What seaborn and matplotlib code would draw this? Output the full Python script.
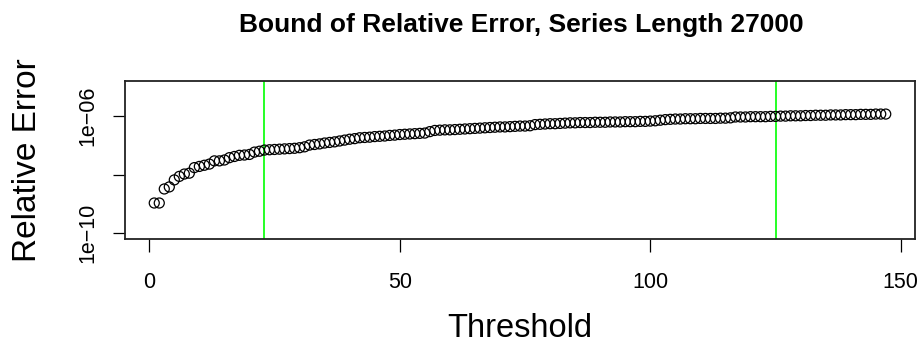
import numpy as np
import pandas as pd
import matplotlib
matplotlib.use("Agg")
import matplotlib.pyplot as plt
import seaborn as sns

# ---- data ----
threshold = list(range(1, 148))
# log10 of the relative error bound, read point by point
rel_error_log10 = [
    -8.97, -8.97, -8.49, -8.42, -8.18, -8.06, -7.98, -7.95, -7.76, -7.72,
    -7.68, -7.64, -7.53, -7.53, -7.50, -7.42, -7.38, -7.34, -7.33, -7.31,
    -7.23, -7.20, -7.16, -7.15, -7.14, -7.13, -7.12, -7.11, -7.10, -7.08,
    -7.05, -6.99, -6.97, -6.95, -6.92, -6.90, -6.88, -6.85, -6.82, -6.79,
    -6.77, -6.74, -6.73, -6.72, -6.70, -6.69, -6.68, -6.66, -6.65, -6.63,
    -6.62, -6.61, -6.60, -6.59, -6.58, -6.53, -6.49, -6.48, -6.47, -6.47,
    -6.46, -6.45, -6.44, -6.43, -6.42, -6.41, -6.40, -6.39, -6.38, -6.37,
    -6.37, -6.36, -6.35, -6.34, -6.34, -6.33, -6.29, -6.28, -6.27, -6.26,
    -6.26, -6.25, -6.24, -6.23, -6.23, -6.22, -6.22, -6.22, -6.21, -6.21,
    -6.21, -6.20, -6.20, -6.20, -6.19, -6.19, -6.19, -6.18, -6.18, -6.17,
    -6.16, -6.14, -6.12, -6.11, -6.10, -6.10, -6.09, -6.09, -6.09, -6.08,
    -6.08, -6.08, -6.08, -6.07, -6.07, -6.06, -6.03, -6.03, -6.03, -6.02,
    -6.02, -6.02, -6.02, -6.01, -6.01, -6.00, -6.00, -5.99, -5.99, -5.99,
    -5.98, -5.98, -5.97, -5.97, -5.97, -5.96, -5.96, -5.96, -5.95, -5.95,
    -5.95, -5.94, -5.94, -5.94, -5.93, -5.93, -5.93,
]
vlines_x = [23, 125]
x_ticks = [0, 50, 100, 150]
y_ticks = [1e-10, 1e-8, 1e-6]
y_tick_labels = ["1e\u221210", "", "1e\u221206"]
title = "Bound of Relative Error, Series Length 27000"
xlabel = "Threshold"
ylabel = "Relative Error"

df = pd.DataFrame({"Threshold": threshold,
                   "RelErr": np.power(10.0, rel_error_log10)})

sns.set_style("white")
plt.rcParams["font.family"] = ["Liberation Sans", "DejaVu Sans"]
plt.rcParams["text.color"] = "black"
plt.rcParams["axes.labelcolor"] = "black"
plt.rcParams["xtick.color"] = "black"
plt.rcParams["ytick.color"] = "black"

fig = plt.figure(figsize=(9.22, 3.48), dpi=100)
ax = fig.add_axes([125 / 922, 1 - 239 / 348, (915 - 125) / 922, (239 - 81) / 348])

sns.scatterplot(data=df, x="Threshold", y="RelErr", ax=ax, marker="o",
                facecolors="none", edgecolor="black", linewidth=0.9, s=52,
                zorder=3)
for xv in vlines_x:
    ax.axvline(xv, color="#00FF00", lw=1.2, zorder=2)

ax.set_yscale("log")
ax.set_xlim(-4.84, 152.84)
ax.set_ylim(10 ** -10.2, 10 ** -4.8)
ax.set_xticks(x_ticks)
ax.set_xticklabels([str(t) for t in x_ticks])
ax.set_yticks(y_ticks)
ax.set_yticklabels(y_tick_labels, rotation=90, va="center")
ax.yaxis.set_minor_locator(matplotlib.ticker.NullLocator())

ax.tick_params(axis="both", direction="out", length=9, width=0.9,
               color="black", labelsize=15.5, labelcolor="black",
               bottom=True, left=True)
ax.tick_params(axis="x", pad=15)
ax.tick_params(axis="y", pad=10)

for sp in ax.spines.values():
    sp.set_visible(True)
    sp.set_color("#222222")
    sp.set_linewidth(1.3)

ax.set_xlabel(xlabel, fontsize=23.5, labelpad=14)
ax.set_ylabel(ylabel, fontsize=24, labelpad=25)
fig.text(521 / 922, 1 - 25 / 348, title, ha="center", va="center",
         fontsize=19, fontweight="bold")

fig.savefig("out.png", dpi=100)
